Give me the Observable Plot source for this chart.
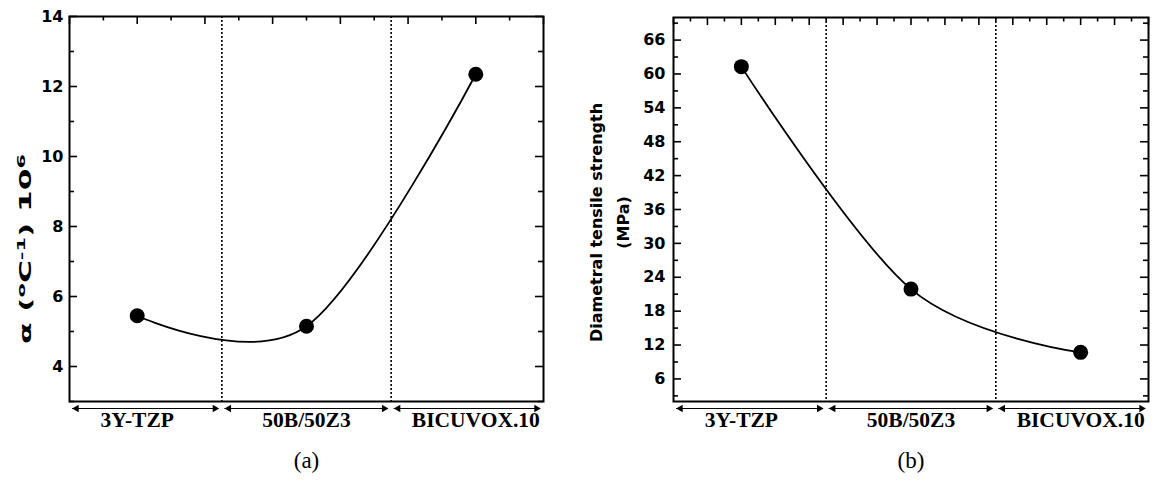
<!DOCTYPE html>
<html>
<head>
<meta charset="utf-8">
<script src="https://cdn.jsdelivr.net/npm/d3@7"></script>
<script src="https://cdn.jsdelivr.net/npm/@observablehq/plot@0.6"></script>
<style>
  body { margin: 0; background: #fff; }
  #row { display: flex; width: 1160px; height: 486px; }
  #row svg { flex: none; }
</style>
</head>
<body>
<div id="row"></div>
<script>
// ---- data ----
const categories = ["3Y-TZP", "50B/50Z3", "BICUVOX.10"];
const expansionCoeff = [5.45, 5.15, 12.35];      // α (°C⁻¹) ×10⁶
const tensileStrength = [61.3, 21.9, 10.7];      // MPa
const xDomain = [0.6, 3.4];
const yDomainA = [3, 14];
const yDomainB = [2, 70];
const yTicksA = [4, 6, 8, 10, 12, 14];
const yMinorA = [3, 5, 7, 9, 11, 13];
const yTicksB = [6, 12, 18, 24, 30, 36, 42, 48, 54, 60, 66];
const yMinorB = [3, 9, 15, 21, 27, 33, 39, 45, 51, 57, 63, 69];
const xMajorA = [0.6, 1.0, 1.4, 1.8, 2.2, 2.6, 3.0, 3.4];
const xMinorA = [0.8, 1.2, 1.6, 2.0, 2.4, 2.8, 3.2];
const xMajorB = [0.6, 0.8, 1.0, 1.2, 1.4, 1.6, 1.8, 2.0, 2.2, 2.4, 2.6, 2.8, 3.0, 3.2, 3.4];
const xMinorB = [0.7, 0.9, 1.1, 1.3, 1.5, 1.7, 1.9, 2.1, 2.3, 2.5, 2.7, 2.9, 3.1, 3.3];

const W = 580, H = 486, MB = 85;

function panel(o) {
  const fw = W - o.marginLeft - o.marginRight;
  const fh = H - o.marginTop - MB;
  const data = categories.map((c, i) => ({c, x: i + 1, y: o.values[i]}));
  const bounds = categories.slice(1).map((c, i) => i + 1.5);
  const segs = categories.map((c, i) => ({
    x1: Math.max(xDomain[0], i + 0.5), x2: Math.min(xDomain[1], i + 1.5), y: o.yDomain[0]
  }));
  const tickStyle = {stroke: "black", strokeWidth: 1.6};
  return Plot.plot({
    width: W, height: H,
    marginLeft: o.marginLeft, marginRight: o.marginRight, marginTop: o.marginTop, marginBottom: MB,
    style: {fontFamily: "DejaVu Sans", fontSize: "15px", fontWeight: "bold", background: "white", overflow: "visible", color: "black"},
    x: {domain: xDomain, axis: null},
    y: {domain: o.yDomain, axis: null},
    marks: [
      // dotted category boundaries
      Plot.ruleX(bounds, {stroke: "black", strokeWidth: 1.6, strokeDasharray: "2,2"}),
      // inward ticks
      Plot.tickX(o.xMajor, {...tickStyle, insetBottom: fh - 8}),
      Plot.tickX(o.xMinor, {...tickStyle, insetBottom: fh - 4.5}),
      Plot.tickY(o.yMajor, {...tickStyle, insetRight: fw - 8}),
      Plot.tickY(o.yMinor, {...tickStyle, insetRight: fw - 5}),
      Plot.tickY(o.yMajor, {...tickStyle, insetLeft: fw - 8}),
      Plot.tickY(o.yMinor, {...tickStyle, insetLeft: fw - 5}),
      Plot.axisY({ticks: o.yMajor, tickSize: 0, tickPadding: o.tickPad, fontSize: 16, fontWeight: "bold", label: null}),
      Plot.frame({stroke: "black", strokeWidth: 2}),
      // fitted curve and points
      Plot.line(data, {x: "x", y: "y", curve: d3.curveCatmullRom.alpha(0), stroke: "black", strokeWidth: 1.8}),
      Plot.dot(data, {x: "x", y: "y", r: 7.5, fill: "black", stroke: "none"}),
      // category extent arrows under the frame
      Plot.ruleY(segs, {x1: "x1", x2: "x2", y: "y", dy: 7, insetLeft: 3, insetRight: 3, stroke: "black", strokeWidth: 1.2}),
      Plot.dot(segs, {x: "x1", y: "y", dy: 7, dx: 7, symbol: "triangle", r: 2.8, rotate: -90, fill: "black"}),
      Plot.dot(segs, {x: "x2", y: "y", dy: 7, dx: -7, symbol: "triangle", r: 2.8, rotate: 90, fill: "black"}),
      Plot.text(data, {x: "x", text: "c", frameAnchor: "bottom", dy: 25, fontFamily: "Liberation Serif", fontWeight: "bold", fontSize: 21.5}),
      // axis title
      Plot.text([o.yLabel], {frameAnchor: "left", textAnchor: "middle", rotate: -90, dx: o.labelDx, dy: o.labelDy, fontSize: o.labelSize, fontWeight: "bold", lineHeight: 1.65}),
      // panel caption
      Plot.text([o.caption], {frameAnchor: "bottom", dy: 66, fontFamily: "Liberation Serif", fontWeight: "normal", fontSize: 23})
    ]
  });
}

const svgA = panel({
  values: expansionCoeff, yDomain: yDomainA, yMajor: yTicksA, yMinor: yMinorA,
  xMajor: xMajorA, xMinor: xMinorA, tickPad: 6,
  yLabel: "α (°C-1) 106", labelDx: -47, labelDy: 40, labelSize: 16.5, caption: "(a)",
  marginLeft: 69, marginRight: 37, marginTop: 16
});
const svgB = panel({
  values: tensileStrength, yDomain: yDomainB, yMajor: yTicksB, yMinor: yMinorB,
  xMajor: xMajorB, xMinor: xMinorB, tickPad: 8,
  yLabel: "Diametral tensile strength\n(MPa)", labelDx: -66.5, labelDy: 13, labelSize: 16, caption: "(b)",
  marginLeft: 93, marginRight: 12, marginTop: 17
});
document.getElementById("row").append(svgA, svgB);

// superscripts in the left axis title
const t = [...svgA.querySelectorAll("text")].find(e => e.textContent.startsWith("α"));
if (t) {
  const NS = "http://www.w3.org/2000/svg";
  t.textContent = "";
  const parts = [["α (", 0, null], ["o", -6, 11], ["C", 6, null], ["-1", -6, 11], [") 10", 6, null], ["6", -6, 11]];
  for (const [s, dy, fs] of parts) {
    const sp = document.createElementNS(NS, "tspan");
    sp.textContent = s;
    if (dy) sp.setAttribute("dy", dy);
    if (fs) sp.setAttribute("font-size", fs);
    t.appendChild(sp);
  }
  t.setAttribute("textLength", 190);
  t.setAttribute("lengthAdjust", "spacingAndGlyphs");
}
</script>
</body>
</html>
